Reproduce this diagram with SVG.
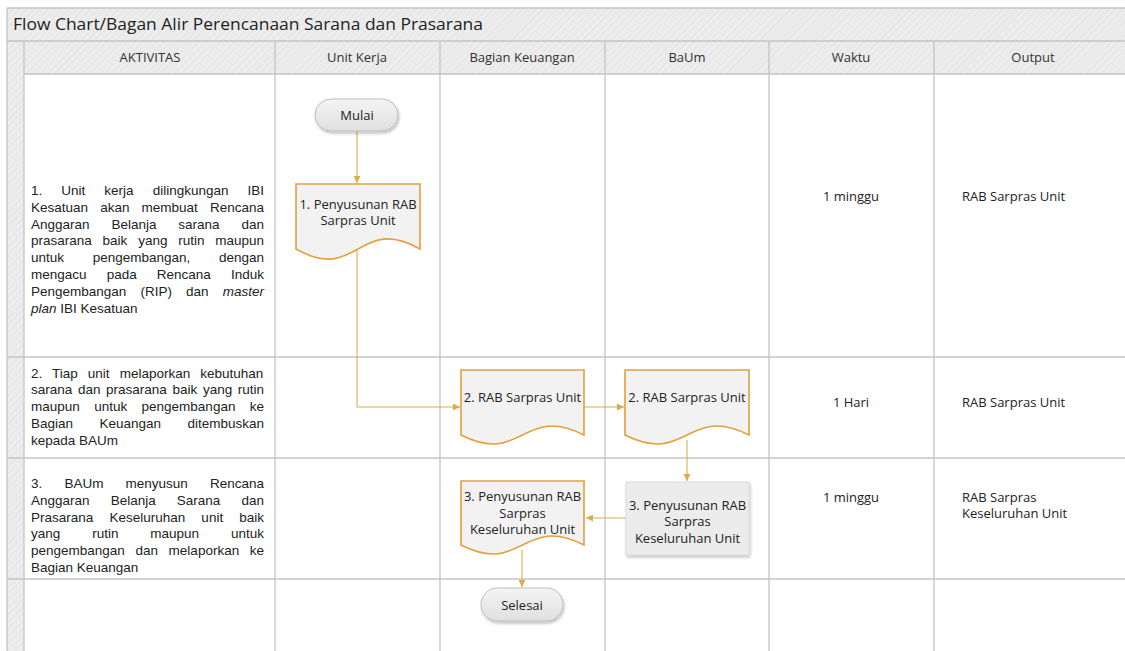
<svg xmlns="http://www.w3.org/2000/svg" width="1125" height="651" viewBox="0 0 1125 651">
<defs>
<pattern id="hatch" patternUnits="userSpaceOnUse" width="5" height="5" patternTransform="rotate(45)">
<rect width="5" height="5" fill="#ECECEC"/>
<line x1="0" y1="0" x2="0" y2="5" stroke="#E2E2E2" stroke-width="1.5"/>
</pattern>
<linearGradient id="pill" x1="0" y1="0" x2="0" y2="1">
<stop offset="0" stop-color="#F4F4F4"/>
<stop offset="1" stop-color="#E0E0E0"/>
</linearGradient>
<filter id="shadow" x="-20%" y="-20%" width="140%" height="150%">
<feDropShadow dx="1" dy="2" stdDeviation="1.5" flood-color="#000" flood-opacity="0.25"/>
</filter>
<marker id="arr" viewBox="0 0 10 10" refX="10" refY="5" markerWidth="7" markerHeight="7" markerUnits="userSpaceOnUse" orient="auto">
<path d="M0,0 L10,5 L0,10 z" fill="#D9AE4A"/>
</marker>
<style>
.grid{stroke:#C4C4C4;stroke-width:1.3;fill:none}
.hdr{font-family:"Open Sans","Noto Sans",sans-serif;font-size:13px;fill:#333;text-anchor:middle}
.lbl{font-family:"Open Sans","Noto Sans",sans-serif;font-size:13px;fill:#222}
.mid{text-anchor:middle}
.act{font-family:"Liberation Sans",Arial,sans-serif;font-size:13.5px;fill:#222}
.doc{fill:#F2F2F2;stroke:#E2A13A;stroke-width:1.6}
.conn{stroke:#D9AE4A;stroke-width:1.1;fill:none}
.pill{fill:url(#pill);stroke:#BDBDBD;stroke-width:1}
</style>
</defs>
<rect x="0" y="0" width="1125" height="651" fill="#FFFFFF"/>

<g id="frame">
<rect x="7" y="8" width="1118" height="66" fill="url(#hatch)"/>
<rect x="7" y="41" width="17" height="610" fill="url(#hatch)"/>
<line class="grid" x1="7" y1="8" x2="1125" y2="8"/>
<line class="grid" x1="7" y1="8" x2="7" y2="651"/>
<line class="grid" x1="7" y1="41" x2="1125" y2="41"/>
<line class="grid" x1="24" y1="41" x2="24" y2="651"/>
<line class="grid" x1="24" y1="74" x2="1125" y2="74"/>
<line class="grid" x1="7" y1="357" x2="1125" y2="357"/>
<line class="grid" x1="7" y1="458" x2="1125" y2="458"/>
<line class="grid" x1="7" y1="579" x2="1125" y2="579"/>
<line class="grid" x1="275" y1="41" x2="275" y2="651"/>
<line class="grid" x1="440" y1="41" x2="440" y2="651"/>
<line class="grid" x1="605" y1="41" x2="605" y2="651"/>
<line class="grid" x1="769" y1="41" x2="769" y2="651"/>
<line class="grid" x1="934" y1="41" x2="934" y2="651"/>
<text x="13" y="30" font-family="'Open Sans','Noto Sans',sans-serif" font-size="17" fill="#222" textLength="470" lengthAdjust="spacingAndGlyphs">Flow Chart/Bagan Alir Perencanaan Sarana dan Prasarana</text>
<text class="hdr" x="150" y="62">AKTIVITAS</text>
<text class="hdr" x="357" y="62">Unit Kerja</text>
<text class="hdr" x="522" y="62">Bagian Keuangan</text>
<text class="hdr" x="687" y="62">BaUm</text>
<text class="hdr" x="851" y="62">Waktu</text>
<text class="hdr" x="1033" y="62">Output</text>
</g>

<g id="aktivitas1">
<text class="act" x="31" y="195" word-spacing="15.29">1. Unit kerja dilingkungan IBI</text>
<text class="act" x="31" y="211.8" word-spacing="8.38">Kesatuan akan membuat Rencana</text>
<text class="act" x="31" y="228.6" word-spacing="18.13">Anggaran Belanja sarana dan</text>
<text class="act" x="31" y="245.4" word-spacing="7.04">prasarana baik yang rutin maupun</text>
<text class="act" x="31" y="262.2" word-spacing="24.94">untuk pengembangan, dengan</text>
<text class="act" x="31" y="279" word-spacing="16.38">mengacu pada Rencana Induk</text>
<text class="act" x="31" y="295.8" word-spacing="10.39">Pengembangan (RIP) dan <tspan font-style="italic">master</tspan></text>
<text class="act" x="31" y="312.6"><tspan font-style="italic">plan</tspan> IBI Kesatuan</text>
</g>
<g id="aktivitas2">
<text class="act" x="31" y="377.5" word-spacing="6.29">2. Tiap unit melaporkan kebutuhan</text>
<text class="act" x="31" y="394.3" word-spacing="1.88">sarana dan prasarana baik yang rutin</text>
<text class="act" x="31" y="411.1" word-spacing="10.63">maupun untuk pengembangan ke</text>
<text class="act" x="31" y="427.9" word-spacing="22.7">Bagian Keuangan ditembuskan</text>
<text class="act" x="31" y="444.7">kepada BAUm</text>
</g>
<g id="aktivitas3">
<text class="act" x="31" y="488" word-spacing="18.4">3. BAUm menyusun Rencana</text>
<text class="act" x="31" y="504.8" word-spacing="17.38">Anggaran Belanja Sarana dan</text>
<text class="act" x="31" y="521.6" word-spacing="12.39">Prasarana Keseluruhan unit baik</text>
<text class="act" x="31" y="538.4" word-spacing="28.14">yang rutin maupun untuk</text>
<text class="act" x="31" y="555.2" word-spacing="6.88">pengembangan dan melaporkan ke</text>
<text class="act" x="31" y="572">Bagian Keuangan</text>
</g>

<g id="connectors">
<line class="conn" x1="357" y1="131" x2="357" y2="183" marker-end="url(#arr)"/>
<polyline class="conn" points="357,250 357,407 460,407" marker-end="url(#arr)"/>
<line class="conn" x1="584" y1="407" x2="624" y2="407" marker-end="url(#arr)"/>
<line class="conn" x1="687" y1="440" x2="687" y2="481" marker-end="url(#arr)"/>
<line class="conn" x1="626" y1="518" x2="586" y2="518" marker-end="url(#arr)"/>
<line class="conn" x1="522" y1="550" x2="522" y2="587" marker-end="url(#arr)"/>
</g>

<g id="mulai">
<rect class="pill" x="315" y="99" width="83" height="32" rx="16" filter="url(#shadow)"/>
<text class="lbl mid" x="357" y="120">Mulai</text>
</g>

<g id="doc1">
<path class="doc" d="M296,184 H420 V249 C358,214 358,284 296,249 Z"/>
<text class="lbl mid" x="358" y="209">1. Penyusunan RAB</text>
<text class="lbl mid" x="358" y="225">Sarpras Unit</text>
</g>

<g id="doc2">
<path class="doc" d="M461,370 H584 V435 C522.5,404 522.5,466 461,435 Z"/>
<text class="lbl mid" x="522.5" y="402">2. RAB Sarpras Unit</text>
</g>

<g id="doc3">
<path class="doc" d="M625,370 H749 V435 C687,404 687,466 625,435 Z"/>
<text class="lbl mid" x="687" y="402">2. RAB Sarpras Unit</text>
</g>

<g id="proc3">
<rect x="626" y="482" width="123" height="73" fill="#ECECEC" stroke="#D6D6D6" stroke-width="0.8" filter="url(#shadow)"/>
<text class="lbl mid" x="687.5" y="509.5">3. Penyusunan RAB</text>
<text class="lbl mid" x="687.5" y="526">Sarpras</text>
<text class="lbl mid" x="687.5" y="542.5">Keseluruhan Unit</text>
</g>

<g id="doc4">
<path class="doc" d="M461,481 H584 V545 C522.5,514 522.5,576 461,545 Z"/>
<text class="lbl mid" x="522.5" y="501">3. Penyusunan RAB</text>
<text class="lbl mid" x="522.5" y="517.5">Sarpras</text>
<text class="lbl mid" x="522.5" y="533.5">Keseluruhan Unit</text>
</g>

<g id="selesai">
<rect class="pill" x="481" y="588" width="82" height="33" rx="16.5" filter="url(#shadow)"/>
<text class="lbl mid" x="522" y="609.5">Selesai</text>
</g>

<g id="waktu">
<text class="lbl mid" x="851" y="200.5">1 minggu</text>
<text class="lbl mid" x="851" y="406.5">1 Hari</text>
<text class="lbl mid" x="851" y="501.5">1 minggu</text>
</g>

<g id="output">
<text class="lbl" x="962" y="200.5">RAB Sarpras Unit</text>
<text class="lbl" x="962" y="406.5">RAB Sarpras Unit</text>
<text class="lbl" x="962" y="501.5">RAB Sarpras</text>
<text class="lbl" x="962" y="517.5">Keseluruhan Unit</text>
</g>
</svg>
